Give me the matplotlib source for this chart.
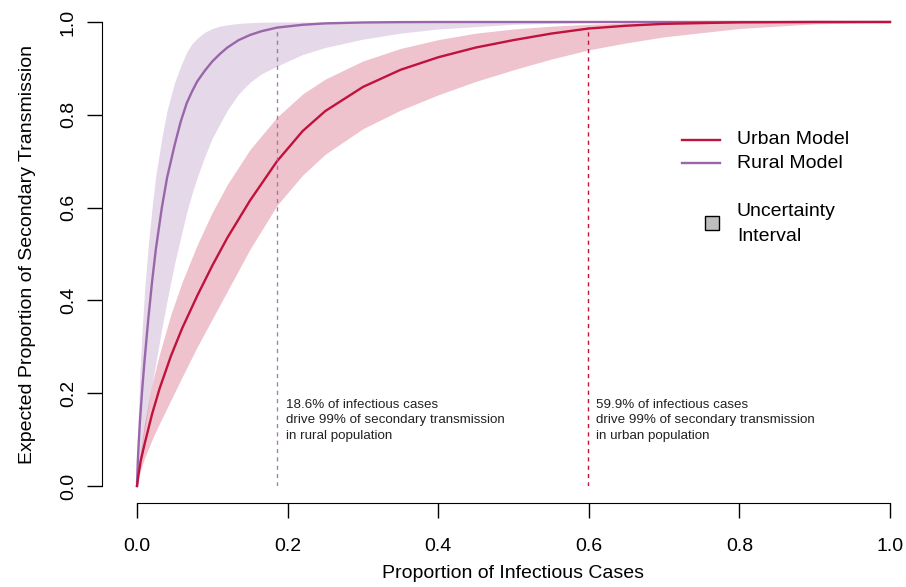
import matplotlib
matplotlib.use('Agg')
import matplotlib.pyplot as plt
from matplotlib.lines import Line2D
from matplotlib.patches import Rectangle

plt.rcParams['font.family'] = ['Liberation Sans', 'DejaVu Sans']

# urban model
urban_x     = [0, 0.002, 0.005, 0.01, 0.02, 0.03, 0.045, 0.06, 0.08, 0.1, 0.12, 0.15, 0.186,
               0.22, 0.25, 0.3, 0.35, 0.4, 0.45, 0.5, 0.55, 0.6, 0.65, 0.7, 0.8, 0.9, 1.0]
urban_mid   = [0, 0.025, 0.055, 0.09, 0.155, 0.21, 0.28, 0.34, 0.41, 0.475, 0.535, 0.615, 0.70,
               0.765, 0.808, 0.86, 0.897, 0.924, 0.945, 0.961, 0.975, 0.986, 0.992, 0.996, 0.9993, 1, 1]
urban_upper = [0, 0.04, 0.08, 0.135, 0.22, 0.285, 0.37, 0.44, 0.52, 0.59, 0.65, 0.725, 0.795,
               0.845, 0.877, 0.916, 0.943, 0.962, 0.976, 0.985, 0.991, 0.995, 0.998, 0.999, 1, 1, 1]
urban_lower = [0, 0.015, 0.035, 0.06, 0.10, 0.135, 0.185, 0.235, 0.30, 0.36, 0.42, 0.51, 0.605,
               0.67, 0.715, 0.77, 0.81, 0.843, 0.872, 0.897, 0.92, 0.94, 0.955, 0.968, 0.986, 0.996, 1]

# rural model
rural_x     = [0, 0.001, 0.002, 0.004, 0.007, 0.01, 0.015, 0.02, 0.025, 0.033, 0.04, 0.05, 0.058,
               0.066, 0.073, 0.08, 0.09, 0.1, 0.11, 0.12, 0.135, 0.15, 0.165, 0.186, 0.22, 0.25,
               0.3, 0.35, 0.4, 0.5, 0.6, 0.7, 0.8, 1.0]
rural_mid   = [0, 0.05, 0.085, 0.142, 0.21, 0.27, 0.36, 0.44, 0.51, 0.60, 0.665, 0.735, 0.785,
               0.825, 0.85, 0.872, 0.895, 0.915, 0.931, 0.945, 0.961, 0.972, 0.98, 0.988, 0.994, 0.997,
               0.999, 0.9997, 1, 1, 1, 1, 1, 1]
rural_upper = [0, 0.10, 0.16, 0.25, 0.34, 0.42, 0.52, 0.60, 0.67, 0.75, 0.81, 0.87, 0.905,
               0.935, 0.953, 0.965, 0.978, 0.986, 0.991, 0.994, 0.997, 0.9985, 0.9995, 1, 1, 1,
               1, 1, 1, 1, 1, 1, 1, 1]
rural_lower = [0, 0.015, 0.03, 0.055, 0.09, 0.12, 0.17, 0.22, 0.265, 0.34, 0.40, 0.48, 0.535,
               0.59, 0.63, 0.665, 0.71, 0.75, 0.78, 0.81, 0.845, 0.87, 0.888, 0.905, 0.93, 0.945,
               0.963, 0.976, 0.985, 0.995, 0.999, 1, 1, 1]

cut_rural = 0.186
cut_urban = 0.599
cut_y     = 0.99

note_rural = "18.6% of infectious cases\ndrive 99% of secondary transmission\nin rural population"
note_urban = "59.9% of infectious cases\ndrive 99% of secondary transmission\nin urban population"

col_urban = '#C0123C'
col_rural = '#9966AA'

W, H = 906, 587
fig = plt.figure(figsize=(W / 100, H / 100), dpi=100)
ax = fig.add_axes([137 / W, 1 - 486 / H, 753 / W, 464 / H])

def fpx(x, y):
  return x / W, 1 - y / H

ax.fill_between(rural_x, rural_lower, rural_upper, color=col_rural, alpha=0.25, lw=0)
ax.fill_between(urban_x, urban_lower, urban_upper, color=col_urban, alpha=0.25, lw=0)
ax.plot(rural_x, rural_mid, color=col_rural, lw=1.7, clip_on=False, solid_joinstyle='round')
ax.plot(urban_x, urban_mid, color=col_urban, lw=1.7, clip_on=False, solid_joinstyle='round')

ax.plot([cut_rural, cut_rural], [0, cut_y], color=col_rural, lw=1, ls=(0, (3, 3)), alpha=0.85)
ax.plot([cut_urban, cut_urban], [0, cut_y], color=col_urban, lw=1, ls=(0, (3, 3)))

ax.text(0.198, 0.142, note_rural, fontsize=9.6, va='center', ha='left', linespacing=1.4, color='#222222')
ax.text(0.61, 0.142, note_urban, fontsize=9.6, va='center', ha='left', linespacing=1.4, color='#222222')

ax.set_xlim(0, 1)
ax.set_ylim(0, 1)
for s in ['top', 'right']:
  ax.spines[s].set_visible(False)
ax.spines['bottom'].set_position(('outward', 12.2))
ax.spines['left'].set_position(('outward', 25.2))
ax.spines['bottom'].set_bounds(0, 1)
ax.spines['left'].set_bounds(0, 1)
ticks = [0, 0.2, 0.4, 0.6, 0.8, 1.0]
ax.set_xticks(ticks)
ax.set_yticks(ticks)
ax.set_xticklabels(['%.1f' % t for t in ticks])
ax.set_yticklabels(['%.1f' % t for t in ticks], rotation=90, va='center')
ax.tick_params(length=11, width=1, labelsize=14, direction='out')
ax.tick_params(axis='x', pad=14)
ax.tick_params(axis='y', pad=7)

fig.text(*fpx(513, 574), 'Proportion of Infectious Cases', fontsize=14, ha='center', va='center')
fig.text(*fpx(28, 254), 'Expected Proportion of Secondary Transmission', fontsize=14,
         ha='center', va='center', rotation=90)

# legend
for yy, col, lab in [(140, col_urban, 'Urban Model'), (163, col_rural, 'Rural Model')]:
  x0, y0 = fpx(682, yy)
  x1, _ = fpx(720, yy)
  fig.add_artist(Line2D([x0, x1], [y0, y0], color=col, lw=1.7))
  fig.text(*fpx(737, yy), lab, fontsize=14, ha='left', va='center')
bx, by = fpx(705, 230)
fig.add_artist(Rectangle((bx, by), 14 / W, 14 / H, facecolor='#BEBEBE', edgecolor='black', lw=1))
fig.text(*fpx(737, 224), 'Uncertainty\nInterval', fontsize=14, ha='left', va='center', linespacing=1.55)

fig.savefig('out.png', dpi=100)
